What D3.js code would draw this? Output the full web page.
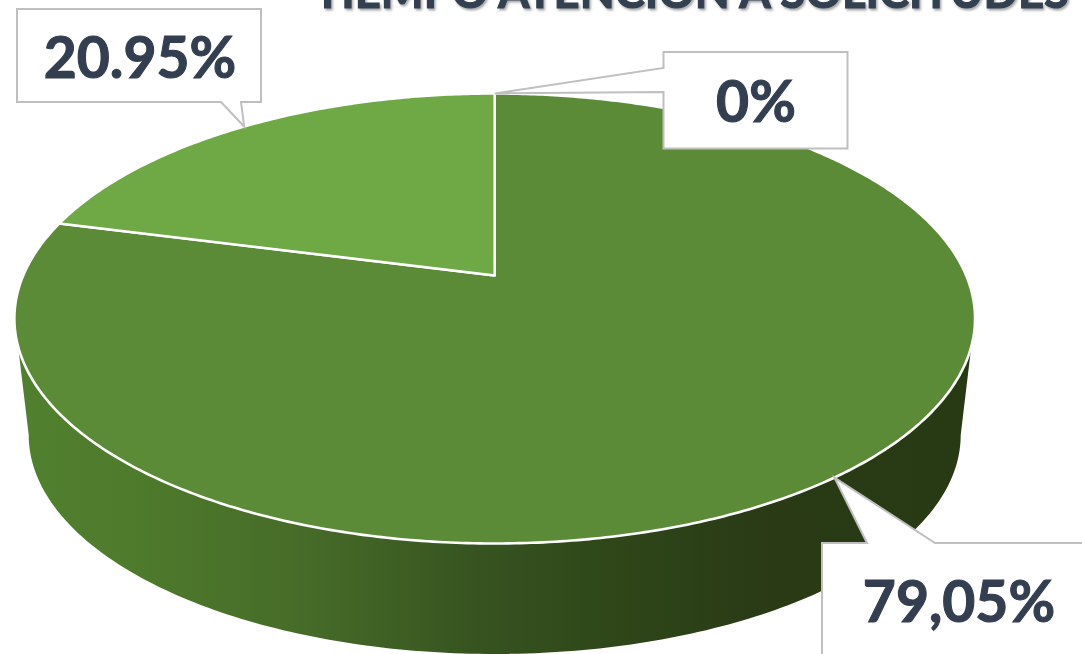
<!DOCTYPE html>
<html><head><meta charset="utf-8">
<script src="https://cdn.jsdelivr.net/npm/d3@7"></script>
<style>html,body{margin:0;padding:0;background:#fff;overflow:hidden}svg{display:block}
text{font-family:Lato,"Open Sans",sans-serif;font-weight:700;fill:#333f50;stroke:#333f50;stroke-width:1.1;paint-order:stroke}</style>
</head><body><svg id="c" width="1082" height="654"></svg>
<script>
const titleText = "TIEMPO ATENCIÓN A SOLICITUDES";
const categories = ["Fuera de tiempo", "Sin atender", "A tiempo"];
const values = [20.95, 0, 79.05];
const labels = ["20.95%", "0%", "79,05%"];
const sliceColors = ["#6fa945", "#6fa945", "#5c8b38"];
const wallStops = [[0,"#50802e"],[0.12,"#4e7a2c"],[0.3,"#466b28"],[0.48,"#375420"],[0.62,"#2f4719"],[0.8,"#293a15"],[1,"#283a14"]];

const svg = d3.select("#c");
const cx = 494.7, vy = 275.5;          // slice vertex in perspective
const A = 471.5, B = 216.8, p = 0.191;
const project = a => { // a: clockwise from top
  const X = Math.sin(a), Y = Math.cos(a), d = 1 + p * Y;
  return [cx + A * X / d, vy - B * Y / d];
};
const tau = Math.PI * 2;
const pie = d3.pie().sort(null).value(d => d.v);
const arcs = pie(values.map((v, i) => ({ v, i })));
const shift = -values[0] / d3.sum(values) * tau; // first slice ends at the top
const mid = d => (d.startAngle + d.endAngle) / 2 + shift;

const xg = d3.scaleLinear().domain([0, 1]).range([27, 960]);
const defs = svg.append("defs");
const grad = defs.append("linearGradient").attr("id", "wall")
  .attr("gradientUnits", "userSpaceOnUse")
  .attr("x1", xg(0)).attr("x2", xg(1)).attr("y1", 0).attr("y2", 0);
wallStops.forEach(s => grad.append("stop").attr("offset", s[0]).attr("stop-color", s[1]));
const blur = defs.append("filter").attr("id", "shadow").attr("x", "-5%").attr("y", "-50%").attr("width", "110%").attr("height", "200%");
blur.append("feDropShadow").attr("dx", 1.5).attr("dy", 2).attr("stdDeviation", 1.2).attr("flood-color", "#000").attr("flood-opacity", 0.35);

// title
svg.append("text").attr("x", 314).attr("y", 8)
  .attr("font-size", 45).attr("textLength", 755).attr("lengthAdjust", "spacingAndGlyphs")
  .attr("filter", "url(#shadow)").text(titleText);

// side wall
const lowRx = 466, lowRy = 219, lowCy = 435;
const upRx = 480, upRy = 225, upCy = 318;
const ellipseX = (rx, t) => cx + rx * Math.cos(t), ellipseY = (cy, ry, t) => cy + ry * Math.sin(t);
const ts = d3.range(0, 181, 1).map(d => d * Math.PI / 180);
const wall = ts.map(t => [ellipseX(upRx, t), ellipseY(upCy, upRy, t)])
  .concat(ts.slice().reverse().map(t => [ellipseX(lowRx, t), ellipseY(lowCy, lowRy, t)]));
svg.append("path").attr("d", d3.line()(wall) + "Z").attr("fill", "url(#wall)");

// top faces
const line = d3.line();
const slicePath = (a0, a1) => {
  const n = Math.max(2, Math.ceil((a1 - a0) / 0.01));
  const pts = d3.range(n + 1).map(i => project(a0 + (a1 - a0) * i / n));
  return line([[cx, vy], ...pts]) + "Z";
};
const drawn = arcs.map(d => ({ a0: d.startAngle + shift, a1: d.endAngle + shift, color: sliceColors[d.data.i], i: d.data.i }));
[2, 0].forEach(k => drawn.filter(d => d.i === k).forEach(d => {
  svg.append("path").attr("d", slicePath(d.a0, d.a1)).attr("fill", d.color).attr("stroke", "#fff").attr("stroke-width", 2.6).attr("stroke-linejoin", "round");
}));
// far edge of the rim is thin and pale
const farTs = d3.range(180, 361, 1).map(d => d * Math.PI / 180);
svg.append("path").attr("d", line(farTs.map(t => [ellipseX(upRx + 1.2, t), ellipseY(upCy, upRy + 1.2, t)])))
  .attr("fill", "none").attr("stroke", "#fff").attr("stroke-width", 2.6);

// callouts
const callout = pts => svg.append("path").attr("d", line(pts) + "Z")
  .attr("fill", "#fff").attr("stroke", "#bfbfbf").attr("stroke-width", 2).attr("stroke-linejoin", "miter");
const byIndex = i => arcs.find(d => d.data.i === i);
const tipA = project(mid(byIndex(0)));
callout([[17, 9], [261, 9], [261, 102], [241, 102], tipA, [221, 102], [159, 102], [17, 102]]);
const tipB = project(mid(byIndex(1)));
callout([[663.5, 52], [847.5, 52], [847.5, 148.5], [663.5, 148.5], [663.5, 92], tipB, [663.5, 68]]);
const tipC = project(mid(byIndex(2)));
callout([[822, 543], [867, 543], tipC, [935, 543], [1090, 543], [1090, 670], [822, 670]]);

// labels
const lbl = [[140, 78], [756, 122], [959, 622]];
labels.forEach((t, i) => svg.append("text").attr("x", lbl[i][0]).attr("y", lbl[i][1]).attr("text-anchor", "middle").attr("font-size", 57).text(t));
</script></body></html>
